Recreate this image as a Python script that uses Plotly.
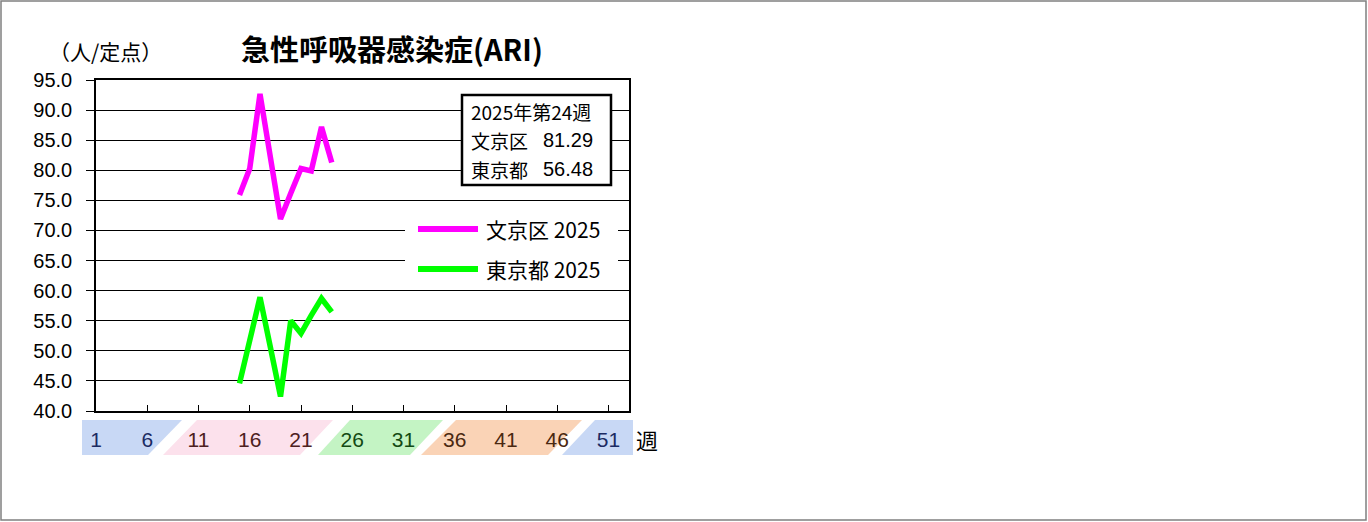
import plotly.graph_objects as go

# weekly ARI reports per sentinel site, 2025 weeks 15-24
weeks = [15, 16, 17, 18, 19, 20, 21, 22, 23, 24]
bunkyo_2025 = [75.9, 80.3, 92.7, 82.3, 71.9, 76.2, 80.3, 79.9, 87.2, 81.29]
tokyo_2025 = [44.6, 52.1, 58.9, 50.7, 42.4, 55.0, 52.9, 55.9, 58.7, 56.48]

bunkyo_name = "文京区 2025"
tokyo_name = "東京都 2025"

week_ticks = [1, 6, 11, 16, 21, 26, 31, 36, 41, 46, 51]
tick_colors = ["#1b2b63", "#1b2b63", "#4d2020", "#4d2020", "#4d2020", "#134a13",
               "#134a13", "#4a2810", "#4a2810", "#4a2810", "#1b2b63"]

# plot area in pixels (window 1368x522)
W, H = 1368, 522
PL, PR, PT, PB = 96, 629, 80, 411


def px(x):
    return (x - PL) / (PR - PL)


def py(y):
    return (PB - y) / (PB - PT)


fig = go.Figure()
fig.add_scatter(x=weeks, y=bunkyo_2025, mode="lines", name=bunkyo_name,
                line=dict(color="#ff00ff", width=5.5), showlegend=False)
fig.add_scatter(x=weeks, y=tokyo_2025, mode="lines", name=tokyo_name,
                line=dict(color="#00ff00", width=5.5), showlegend=False)

shapes = []
# outer frame
shapes.append(dict(type="rect", xref="paper", yref="paper", x0=px(1), x1=px(1366),
                   y0=py(520), y1=py(1), line=dict(color="#808080", width=1.5)))

# season bands under the week labels
def band(pts, color):
    path = "M " + " L ".join(f"{px(x)},{py(y)}" for x, y in pts) + " Z"
    return dict(type="path", xref="paper", yref="paper", path=path,
                fillcolor=color, line=dict(width=0), layer="below")

top, bot = 420, 455
shapes.append(band([(82, top), (182, top), (148, bot), (82, bot)], "#c8d8f5"))
shapes.append(band([(197, top), (333, top), (300, bot), (163, bot)], "#fce1ec"))
shapes.append(band([(350, top), (443, top), (410, bot), (318, bot)], "#c4f4c4"))
shapes.append(band([(456, top), (582, top), (548, bot), (421, bot)], "#fad3b6"))
shapes.append(band([(595, top), (633, top), (633, bot), (562, bot)], "#c8d8f5"))

# legend box
shapes.append(dict(type="rect", xref="paper", yref="paper", x0=px(405), x1=px(618),
                   y0=py(287), y1=py(209), fillcolor="white", line=dict(width=0)))
shapes.append(dict(type="line", xref="paper", yref="paper", x0=px(418), x1=px(478),
                   y0=py(229), y1=py(229), line=dict(color="#ff00ff", width=6)))
shapes.append(dict(type="line", xref="paper", yref="paper", x0=px(418), x1=px(478),
                   y0=py(269), y1=py(269), line=dict(color="#00ff00", width=6)))

# latest-week info box
shapes.append(dict(type="rect", xref="paper", yref="paper", x0=px(462), x1=px(611),
                   y0=py(185), y1=py(95), fillcolor="white",
                   line=dict(color="black", width=2.5)))

jp = "Noto Sans CJK JP"
num = "Liberation Sans Narrow, Liberation Sans, Arial"

annotations = [
    dict(text="<b>急性呼吸器感染症(ARI)</b>", x=px(392), y=py(48),
         font=dict(family=jp, size=29, color="black")),
    dict(text="（人/定点）", x=px(105), y=py(51), font=dict(family=jp, size=21, color="black")),
    dict(text="週", x=px(647), y=py(439), font=dict(family=jp, size=22, color="black")),
    dict(text=bunkyo_name, x=px(484), y=py(229), xanchor="left",
         font=dict(family=jp, size=21, color="black")),
    dict(text=tokyo_name, x=px(484), y=py(269), xanchor="left",
         font=dict(family=jp, size=21, color="black")),
    dict(text=f"2025年第{weeks[-1]}週", x=px(469), y=py(112), xanchor="left",
         font=dict(family=jp, size=19, color="black")),
    dict(text="文京区", x=px(469), y=py(140), xanchor="left",
         font=dict(family=jp, size=19, color="black")),
    dict(text=f"{bunkyo_2025[-1]:.2f}", x=px(595), y=py(140), xanchor="right",
         font=dict(family=num, size=20, color="black")),
    dict(text="東京都", x=px(469), y=py(169), xanchor="left",
         font=dict(family=jp, size=19, color="black")),
    dict(text=f"{tokyo_2025[-1]:.2f}", x=px(595), y=py(169), xanchor="right",
         font=dict(family=num, size=20, color="black")),
]
for a in annotations:
    a.update(xref="paper", yref="paper", showarrow=False, yanchor="middle")
    a.setdefault("xanchor", "center")

fig.update_layout(
    width=W, height=H,
    margin=dict(l=PL, r=W - PR, t=PT, b=H - PB, pad=0),
    paper_bgcolor="white", plot_bgcolor="white",
    shapes=shapes, annotations=annotations, showlegend=False,
)
fig.update_xaxes(
    range=[1, 53], tickmode="array", tickvals=week_ticks,
    ticktext=[f'<span style="color:{c}">{w}</span>' for w, c in zip(week_ticks, tick_colors)],
    ticks="inside", ticklen=6, tickcolor="black", tickwidth=1.3,
    showline=True, linecolor="black", linewidth=1.5, mirror=True,
    showgrid=False, zeroline=False, ticklabelstandoff=9,
    tickfont=dict(family=num, size=21),
)
fig.update_yaxes(
    range=[40, 95], dtick=5, tick0=40, tickformat=".1f",
    ticks="outside", ticklen=8, tickcolor="black", tickwidth=1.3,
    showline=True, linecolor="black", linewidth=1.5, mirror=True,
    showgrid=True, gridcolor="black", gridwidth=1.3, zeroline=False,
    ticklabelstandoff=10,
    tickfont=dict(family=num, size=20, color="black"),
)

fig.write_html("out.html", config={"displayModeBar": False},
               post_script="document.body.style.margin='0';document.body.style.overflow='hidden';")
